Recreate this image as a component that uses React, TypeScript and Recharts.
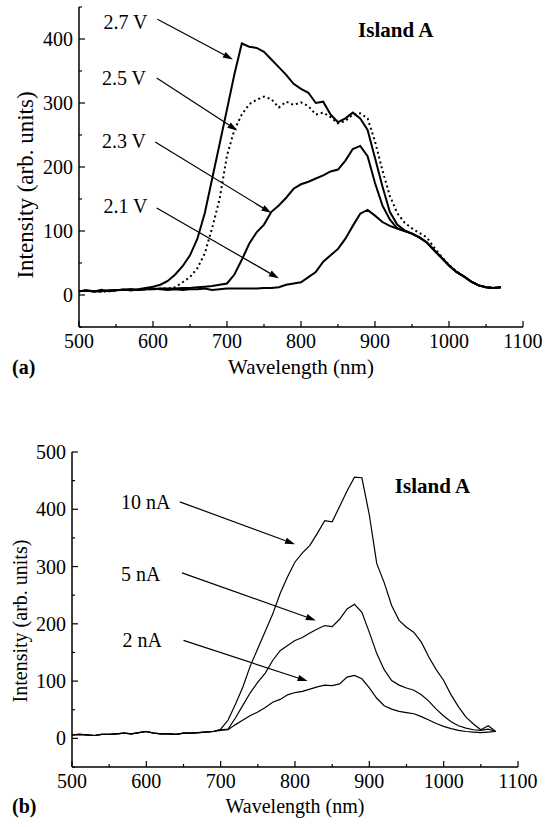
import { LineChart, Line, XAxis, YAxis, ReferenceLine, ReferenceDot } from "recharts";

// wavelength grid (nm), shared by both panels
const wavelengths = [
  500, 510, 520, 530, 540, 550, 560, 570, 580, 590,
  600, 610, 620, 630, 640, 650, 660, 670, 680, 690,
  700, 710, 720, 730, 740, 750, 760, 770, 780, 790,
  800, 810, 820, 830, 840, 850, 860, 870, 880, 890,
  900, 910, 920, 930, 940, 950, 960, 970, 980, 990,
  1000, 1010, 1020, 1030, 1040, 1050, 1060, 1070,
];

// panel (a): voltage series
const v27 = [
  6, 7, 5, 8, 6, 7, 9, 7, 9, 11,
  13, 16, 22, 32, 45, 62, 88, 128, 182, 236,
  290, 345, 393, 388, 386, 380, 368, 356, 344, 330,
  322, 316, 300, 302, 282, 270, 276, 285, 276, 258,
  214, 170, 130, 110, 101, 96, 90, 82, 70, 58,
  46, 36, 29, 21, 15, 12, 11, 12,
];
const v25 = [
  6, 7, 6, 5, 6, 7, 8, 8, 8, 9,
  9, 10, 10, 12, 20, 28, 42, 65, 105, 150,
  218, 258, 282, 298, 305, 310, 306, 293, 302, 297,
  301, 295, 282, 285, 278, 268, 272, 282, 284, 276,
  240, 195, 155, 128, 113, 104, 97, 90, 74, 60,
  47, 37, 29, 21, 15, 12, 11, 12,
];
const v23 = [
  6, 7, 6, 6, 7, 8, 8, 9, 8, 9,
  9, 10, 10, 10, 11, 11, 12, 13, 14, 16,
  18, 32, 55, 80, 98, 110, 130, 140, 152, 166,
  173, 177, 182, 187, 193, 196, 210, 228, 233, 217,
  175, 140, 118, 104, 100, 96, 90, 82, 70, 58,
  46, 36, 29, 21, 15, 12, 11, 12,
];
const v21 = [
  6, 7, 6, 6, 7, 8, 8, 9, 8, 9,
  10, 9, 8, 9, 8, 9, 9, 10, 8, 9,
  10, 10, 10, 10, 10, 11, 11, 12, 16, 18,
  20, 28, 36, 52, 62, 72, 88, 108, 127, 133,
  124, 114, 108, 104, 100, 96, 90, 82, 70, 58,
  46, 36, 29, 21, 15, 12, 11, 12,
];

// panel (b): current series
const i10 = [
  6, 7, 6, 5, 7, 7, 8, 9, 8, 10,
  12, 9, 8, 8, 7, 9, 9, 10, 11, 12,
  16, 32, 60, 90, 127, 157, 187, 217, 253, 282,
  308, 324, 337, 358, 380, 378, 405, 432, 456, 455,
  390, 305, 272, 232, 206, 194, 185, 168, 142, 120,
  101, 76, 55, 37, 25, 15, 22, 12,
];
const i5 = [
  6, 7, 6, 5, 7, 7, 8, 9, 8, 10,
  12, 9, 8, 8, 7, 9, 9, 10, 11, 12,
  15, 16, 36, 58, 80, 98, 114, 136, 153, 162,
  171, 176, 184, 191, 197, 195, 208, 226, 234, 220,
  185, 148, 120, 101, 93, 88, 84, 76, 65, 51,
  39, 29, 22, 18, 15, 14, 16, 12,
];
const i2 = [
  6, 7, 6, 5, 7, 7, 8, 9, 8, 10,
  12, 9, 8, 8, 7, 9, 9, 10, 11, 12,
  14, 15, 24, 32, 40, 46, 54, 63, 68, 76,
  80, 82, 86, 90, 93, 92, 95, 107, 110, 104,
  88, 70, 57, 51, 47, 45, 43, 38, 32, 26,
  21, 17, 14, 12, 11, 10, 11, 12,
];

const xTicks = [500, 550, 600, 650, 700, 750, 800, 850, 900, 950, 1000, 1050, 1100];
const yTicksA = [-50, 0, 50, 100, 150, 200, 250, 300, 350, 400, 450];
const yTicksB = [-50, 0, 50, 100, 150, 200, 250, 300, 350, 400, 450, 500];

// annotations: label (left edge tx, centre ty), arrow start and end (data units)
const arrowsA = [
  { text: "2.7 V", tx: 533, ty: 427, x1: 606, y1: 431, x2: 708, y2: 368 },
  { text: "2.5 V", tx: 531, ty: 339, x1: 605, y1: 339, x2: 714, y2: 257 },
  { text: "2.3 V", tx: 531, ty: 241, x1: 603, y1: 239, x2: 760, y2: 128 },
  { text: "2.1 V", tx: 533, ty: 139, x1: 605, y1: 136, x2: 770, y2: 26 },
];
const arrowsB = [
  { text: "10 nA", tx: 566, ty: 413, x1: 645, y1: 413, x2: 800, y2: 339 },
  { text: "5 nA", tx: 566, ty: 287, x1: 648, y1: 289, x2: 828, y2: 206 },
  { text: "2 nA", tx: 568, ty: 171, x1: 650, y1: 171, x2: 817, y2: 100 },
];

const FONT = '"Liberation Serif", "Times New Roman", serif';

const dataA = wavelengths.map((wl, i) => ({ wl, v27: v27[i], v25: v25[i], v23: v23[i], v21: v21[i] }));
const dataB = wavelengths.map((wl, i) => ({ wl, i10: i10[i], i5: i5[i], i2: i2[i] }));

function xTick(p: any) {
  const v = p.payload.value;
  const major = v % 100 === 0;
  return (
    <g>
      <line x1={p.x} x2={p.x} y1={p.y} y2={p.y - (major ? 6 : 3)} stroke="#000" strokeWidth={1.2} />
      {major && (
        <text x={p.x} y={p.y + 21} textAnchor="middle" fontSize={20} fontFamily={FONT} fill="#000">
          {v}
        </text>
      )}
    </g>
  );
}

function yTick(p: any, max: number) {
  const v = p.payload.value;
  const major = v % 100 === 0;
  return (
    <g>
      <line x1={p.x} x2={p.x + (major ? 6 : 3)} y1={p.y} y2={p.y} stroke="#000" strokeWidth={1.2} />
      {major && v >= 0 && v <= max && (
        <text x={p.x - 6} y={p.y + 7} textAnchor="end" fontSize={20} fontFamily={FONT} fill="#000">
          {v}
        </text>
      )}
    </g>
  );
}

function arrowShape(p: any) {
  const { x1, y1, x2, y2 } = p;
  const a = Math.atan2(y2 - y1, x2 - x1);
  const len = 10;
  const w = 3.2;
  const bx = x2 - len * Math.cos(a);
  const by = y2 - len * Math.sin(a);
  const pts = [
    `${x2},${y2}`,
    `${bx + w * Math.sin(a)},${by - w * Math.cos(a)}`,
    `${bx - w * Math.sin(a)},${by + w * Math.cos(a)}`,
  ].join(" ");
  return (
    <g>
      <line x1={x1} y1={y1} x2={bx} y2={by} stroke="#000" strokeWidth={1.2} />
      <polygon points={pts} fill="#000" />
    </g>
  );
}

function textShape(text: string, anchor: "start" | "middle", bold = false) {
  return (p: any) => (
    <text
      x={p.cx}
      y={p.cy + 7}
      textAnchor={anchor}
      fontSize={bold ? 21 : 20}
      fontWeight={bold ? "bold" : "normal"}
      fontFamily={FONT}
      fill="#000"
    >
      {text}
    </text>
  );
}

function annotations(list: typeof arrowsA) {
  return list.flatMap((a) => [
    <ReferenceLine
      key={a.text + "-arrow"}
      segment={[{ x: a.x1, y: a.y1 }, { x: a.x2, y: a.y2 }]}
      ifOverflow="visible"
      shape={arrowShape}
    />,
    <ReferenceDot key={a.text + "-label"} x={a.tx} y={a.ty} r={0} ifOverflow="visible" shape={textShape(a.text, "start")} />,
  ]);
}

const absText = (extra: any) => ({
  position: "absolute" as const,
  fontFamily: FONT,
  color: "#000",
  whiteSpace: "nowrap" as const,
  lineHeight: 1,
  ...extra,
});

export default function App() {
  return (
    <div style={{ position: "absolute", left: 0, top: 0, width: 545, height: 827, background: "#fff" }}>
      <div style={{ position: "absolute", left: 0, top: 0 }}>
        <LineChart width={545} height={380} data={dataA} margin={{ top: 7, right: 22, bottom: 3, left: 19 }}>
          <XAxis
            dataKey="wl"
            type="number"
            domain={[500, 1100]}
            ticks={xTicks}
            interval={0}
            tickSize={0}
            tickMargin={0}
            height={50}
            axisLine={{ stroke: "#000", strokeWidth: 1.5 }}
            tickLine={false}
            tick={xTick}
          />
          <YAxis
            type="number"
            domain={[-50, 450]}
            ticks={yTicksA}
            interval={0}
            tickSize={0}
            tickMargin={0}
            width={60}
            axisLine={{ stroke: "#000", strokeWidth: 1.5 }}
            tickLine={false}
            tick={(p: any) => yTick(p, 400)}
          />
          <Line dataKey="v21" stroke="#000" strokeWidth={2} dot={false} isAnimationActive={false} />
          <Line dataKey="v23" stroke="#000" strokeWidth={2} dot={false} isAnimationActive={false} />
          <Line dataKey="v25" stroke="#000" strokeWidth={2} strokeDasharray="2 3" dot={false} isAnimationActive={false} />
          <Line dataKey="v27" stroke="#000" strokeWidth={2} dot={false} isAnimationActive={false} />
          {annotations(arrowsA)}
          <ReferenceDot x={928} y={414} r={0} ifOverflow="visible" shape={textShape("Island A", "middle", true)} />
        </LineChart>
      </div>

      <div style={{ position: "absolute", left: 0, top: 420 }}>
        <LineChart width={545} height={407} data={dataB} margin={{ top: 32, right: 27, bottom: 10, left: 12 }}>
          <XAxis
            dataKey="wl"
            type="number"
            domain={[500, 1100]}
            ticks={xTicks}
            interval={0}
            tickSize={0}
            tickMargin={0}
            height={50}
            axisLine={{ stroke: "#000", strokeWidth: 1.5 }}
            tickLine={false}
            tick={xTick}
          />
          <YAxis
            type="number"
            domain={[-50, 500]}
            ticks={yTicksB}
            interval={0}
            tickSize={0}
            tickMargin={0}
            width={60}
            axisLine={{ stroke: "#000", strokeWidth: 1.5 }}
            tickLine={false}
            tick={(p: any) => yTick(p, 500)}
          />
          <Line dataKey="i2" stroke="#000" strokeWidth={1.2} dot={false} isAnimationActive={false} />
          <Line dataKey="i5" stroke="#000" strokeWidth={1.2} dot={false} isAnimationActive={false} />
          <Line dataKey="i10" stroke="#000" strokeWidth={1.2} dot={false} isAnimationActive={false} />
          {annotations(arrowsB)}
          <ReferenceDot x={985} y={440} r={0} ifOverflow="visible" shape={textShape("Island A", "middle", true)} />
        </LineChart>
      </div>

      <div style={absText({ left: 25, top: 185, fontSize: 23, transform: "translate(-50%, -50%) rotate(-90deg)" })}>
        Intensity (arb. units)
      </div>
      <div style={absText({ left: 301, top: 367, fontSize: 21, transform: "translate(-50%, -50%)" })}>
        Wavelength (nm)
      </div>
      <div style={absText({ left: 12, top: 367, fontSize: 20, fontWeight: "bold", transform: "translateY(-50%)" })}>
        (a)
      </div>

      <div style={absText({ left: 20, top: 621, fontSize: 20, transform: "translate(-50%, -50%) rotate(-90deg)" })}>
        Intensity (arb. units)
      </div>
      <div style={absText({ left: 295, top: 806, fontSize: 20, transform: "translate(-50%, -50%)" })}>
        Wavelength (nm)
      </div>
      <div style={absText({ left: 12, top: 806, fontSize: 20, fontWeight: "bold", transform: "translateY(-50%)" })}>
        (b)
      </div>
    </div>
  );
}
